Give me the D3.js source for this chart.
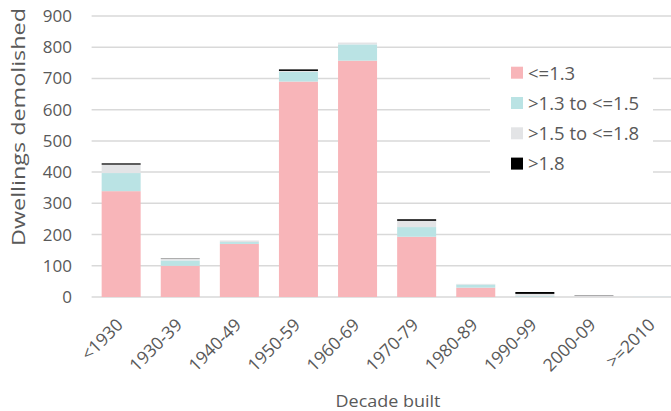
<!DOCTYPE html>
<html>
<head>
<meta charset="utf-8">
<script src="https://cdn.jsdelivr.net/npm/d3@7"></script>
<style>
  html, body { margin: 0; padding: 0; background: #fff; }
  svg { display: block; }
  text { font-family: "Open Sans", Lato, sans-serif; fill: #595959; }
</style>
</head>
<body>
<svg id="chart" width="671" height="411"></svg>
<script>
// Decade of construction
const categories = ["<1930", "1930-39", "1940-49", "1950-59", "1960-69",
                    "1970-79", "1980-89", "1990-99", "2000-09", ">=2010"];

// Dwellings demolished, by band
const le13     = [339, 100, 170, 690, 757, 193, 30, 1, 1, 0];
const gt13le15 = [58, 17, 6, 31, 52, 31, 10, 3, 1, 1];
const gt15le18 = [27, 5, 5, 3, 6, 20, 2, 6, 2, 2];
const gt18     = [4, 1, 0, 5, 0, 5, 0, 6, 1, 0];

const seriesNames = ["<=1.3", ">1.3 to <=1.5", ">1.5 to <=1.8", ">1.8"];
const seriesColors = ["#f8b5b9", "#bae3e4", "#e3e4e6", "#000000"];
const yTicks = [0, 100, 200, 300, 400, 500, 600, 700, 800, 900];

const seriesValues = [le13, gt13le15, gt15le18, gt18];
const rows = categories.map((c, i) => {
  const r = { cat: c };
  seriesNames.forEach((s, k) => { r[s] = seriesValues[k][i]; });
  return r;
});
const stacked = d3.stack().keys(seriesNames)(rows);

const svg = d3.select("#chart");
const x = d3.scaleBand().domain(categories).range([91.6, 682.6]).paddingInner(0.34).paddingOuter(0.17);
const y = d3.scaleLinear().domain([0, 900]).range([297, 16]);

// gridlines
svg.append("g").selectAll("line").data(yTicks).join("line")
  .attr("x1", 91.6).attr("x2", 671)
  .attr("y1", d => y(d)).attr("y2", d => y(d))
  .attr("stroke", "#d9d9d9").attr("stroke-width", 1.5);

// stacked bars
svg.append("g").selectAll("g").data(stacked).join("g")
  .attr("fill", (d, i) => seriesColors[i])
  .selectAll("rect").data(d => d).join("rect")
  .attr("x", d => x(d.data.cat))
  .attr("width", x.bandwidth())
  .attr("y", d => y(d[1]))
  .attr("height", d => y(d[0]) - y(d[1]));

// y axis
const yAxis = svg.append("g").attr("transform", "translate(72,0)")
  .call(d3.axisLeft(y).tickValues(yTicks).tickSize(0).tickPadding(0));
yAxis.select(".domain").remove();
yAxis.selectAll("text").attr("font-size", 17).attr("font-family", "'Open Sans', sans-serif").attr("fill", "#595959");

// x axis labels, slanted
const xAxis = svg.append("g").attr("transform", "translate(0,297)")
  .call(d3.axisBottom(x).tickSize(0).tickPadding(0));
xAxis.select(".domain").remove();
xAxis.selectAll("text")
  .attr("font-size", 17.5).attr("font-family", "'Open Sans', sans-serif").attr("fill", "#595959")
  .attr("text-anchor", "end")
  .attr("dy", null).attr("y", 0)
  .attr("transform", "translate(3,29) rotate(-45)");

// axis titles
svg.append("text").attr("transform", "translate(25,127) rotate(-90)")
  .attr("text-anchor", "middle").attr("font-size", 18.5)
  .attr("textLength", 238).attr("lengthAdjust", "spacingAndGlyphs")
  .text("Dwellings demolished");
svg.append("text").attr("x", 388).attr("y", 407)
  .attr("text-anchor", "middle").attr("font-size", 17)
  .attr("textLength", 105).attr("lengthAdjust", "spacingAndGlyphs")
  .text("Decade built");

// legend
const legend = svg.append("g");
legend.append("rect").attr("x", 490).attr("y", 55).attr("width", 163).attr("height", 130).attr("fill", "#fff");
const items = legend.selectAll("g.item").data(seriesNames).join("g")
  .attr("class", "item")
  .attr("transform", (d, i) => `translate(511,${72.7 + i * 30.3})`);
items.append("rect").attr("x", 0).attr("y", -6).attr("width", 12).attr("height", 12)
  .attr("fill", (d, i) => seriesColors[i]);
items.append("text").attr("x", 17).attr("y", 6.8).attr("font-size", 18.5).text(d => d);
</script>
</body>
</html>
